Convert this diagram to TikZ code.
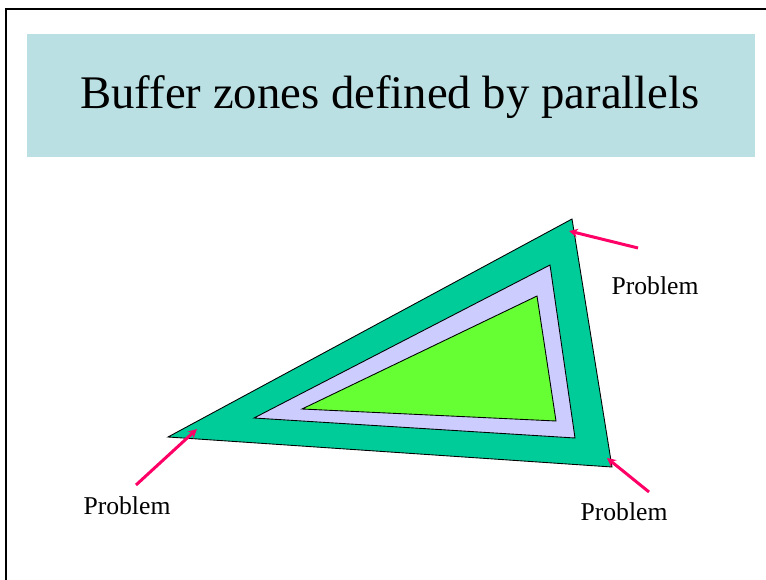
\documentclass[tikz,border=0pt]{standalone}
\usepackage{fontspec}
\setmainfont{Liberation Serif}
\usepackage{tikz}
\usetikzlibrary{arrows.meta,positioning}

\definecolor{titlebg}{HTML}{BAE0E3}
\definecolor{zoneout}{HTML}{00CC99}
\definecolor{zonemid}{HTML}{CCCCFF}
\definecolor{zonein}{HTML}{66FF33}
\definecolor{probred}{HTML}{FF0066}

\begin{document}
\begin{tikzpicture}[
    x=0.02cm, y=-0.02cm,
    zone/.style={draw=black, line width=0.5pt, line join=miter},
    lbl/.style={font=\fontsize{14.6}{16}\selectfont, inner sep=0pt},
    parr/.style={-{Stealth[length=5pt,width=5pt]}, draw=probred, line width=1.7pt}
]
\clip (0,0) rectangle (766,580);
\useasboundingbox (0,0) rectangle (766,580);

% slide frame and title band
\draw[line width=1.2pt] (6,9) rectangle (800,620);
\fill[titlebg] (27,34) rectangle (755,157);
\node[font=\fontsize{26.6}{30}\selectfont] (title) at (390,97) {Buffer zones defined by parallels};

% zones
\coordinate (o1) at (168,437); \coordinate (o2) at (572,219); \coordinate (o3) at (612,467);
\coordinate (m1) at (254,418); \coordinate (m2) at (550,265); \coordinate (m3) at (575,438);
\coordinate (i1) at (302,409); \coordinate (i2) at (537,296); \coordinate (i3) at (556,421);
\filldraw[zone, fill=zoneout] (o1) -- (o2) -- (o3) -- cycle;
\filldraw[zone, fill=zonemid] (m1) -- (m2) -- (m3) -- cycle;
\filldraw[zone, fill=zonein] (i1) -- (i2) -- (i3) -- cycle;

% problem labels
\node[lbl] (probTop) at (655,286) {Problem};
\node[lbl] (probLeft) at (127,506) {Problem};
\node[lbl] (probRight) at (624,512) {Problem};

\coordinate (tTop) at (638,248);  \coordinate (hTop) at (569,231);
\coordinate (tLeft) at (136,485); \coordinate (hLeft) at (197,429);
\coordinate (tRight) at (649,492); \coordinate (hRight) at (607,458);
\draw[parr] (tTop) -- (hTop);
\draw[parr] (tLeft) -- (hLeft);
\draw[parr] (tRight) -- (hRight);
\end{tikzpicture}
\end{document}
